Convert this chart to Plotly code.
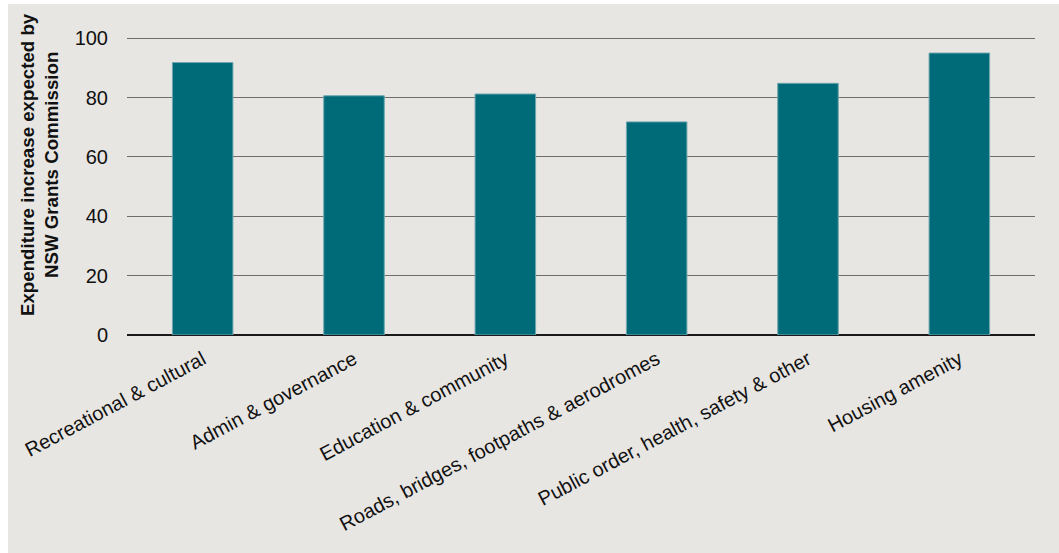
import plotly.graph_objects as go

# Expenditure categories and the increase expected by the NSW Grants Commission
categories = [
    "Recreational & cultural",
    "Admin & governance",
    "Education & community",
    "Roads, bridges, footpaths & aerodromes",
    "Public order, health, safety & other",
    "Housing amenity",
]
expected_increase = [91.8, 80.6, 81.2, 71.8, 84.8, 95.0]
y_ticks = [0, 20, 40, 60, 80, 100]
y_title = "<b>Expenditure increase expected by<br>NSW Grants Commission</b>"

W, H = 1059, 553
ML, MR, MT, MB = 127, 24, 37, 218
pw, ph = W - ML - MR, H - MT - MB

fig = go.Figure(
    go.Bar(
        x=categories,
        y=expected_increase,
        marker=dict(color="#006B78", line=dict(color="#6FA7B0", width=1)),
        width=0.4,
    )
)

# thin white frame on the left and top edges of the page
fig.add_shape(type="rect", xref="paper", yref="paper",
              x0=-ML / pw, x1=(8 - ML) / pw, y0=-MB / ph, y1=1 + MT / ph,
              fillcolor="white", line=dict(width=0), layer="below")
fig.add_shape(type="rect", xref="paper", yref="paper",
              x0=-ML / pw, x1=(W - ML) / pw, y0=1 + (MT - 4) / ph, y1=1 + MT / ph,
              fillcolor="white", line=dict(width=0), layer="below")

# vertical axis title, placed a little above the plot centre
fig.add_annotation(
    text=y_title,
    textangle=-90,
    xref="paper", yref="paper",
    x=(39 - ML) / pw, y=(335 - 165) / ph,
    xanchor="center", yanchor="middle",
    showarrow=False,
    font=dict(size=18.7, color="#111111"),
)

fig.update_layout(
    width=W,
    height=H,
    margin=dict(l=ML, r=MR, t=MT, b=MB),
    paper_bgcolor="#E8E6E2",
    plot_bgcolor="#E8E6E2",
    showlegend=False,
    font=dict(family="Liberation Sans, Arial, sans-serif", color="#111111"),
    xaxis=dict(
        tickangle=-28,
        tickfont=dict(size=20),
        ticklabelstandoff=8,
        showgrid=False,
        showline=False,
        ticks="",
    ),
    yaxis=dict(
        range=[0, 100.4],
        tickvals=y_ticks,
        tickfont=dict(size=20),
        ticklabelstandoff=18,
        ticks="",
        showline=False,
        gridcolor="#6E6E6E",
        gridwidth=1.3,
        zeroline=True,
        zerolinecolor="#1a1a1a",
        zerolinewidth=1.5,
    ),
)

fig.write_html("out.html")
